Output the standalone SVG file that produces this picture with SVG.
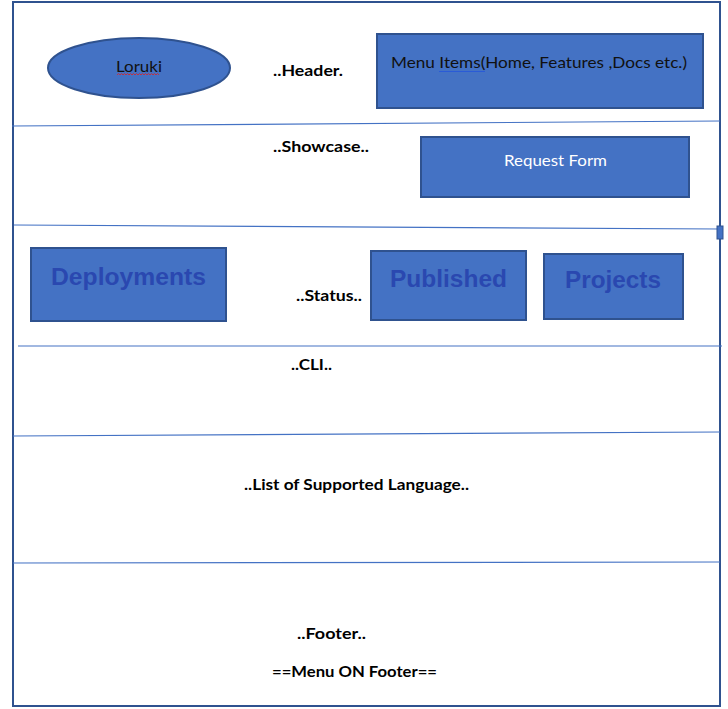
<svg xmlns="http://www.w3.org/2000/svg" width="728" height="709" viewBox="0 0 728 709">
<style>
.box{fill:#4472C4;stroke:#2F528F;stroke-width:2}
.div{stroke:#4472C4;stroke-width:1.2;fill:none}
.lbl{font-family:Lato,"Open Sans","Liberation Sans",sans-serif;font-weight:bold;font-size:14.5px;fill:#000}
.in{font-family:Lato,"Open Sans","Liberation Sans",sans-serif;font-size:15px;fill:#111}
.big{font-family:"Liberation Sans",Arial,sans-serif;font-weight:bold;font-size:24px;fill:#2A48B0}
</style>
<rect width="728" height="709" fill="#fff"/>
<rect x="13" y="2" width="707" height="704" fill="none" stroke="#2F528F" stroke-width="2"/>
<g id="connectors">
<line class="div" x1="12" y1="126" x2="720" y2="121"/>
<line class="div" x1="14" y1="225" x2="720" y2="229"/>
<line class="div" x1="18" y1="346" x2="722" y2="346"/>
<line class="div" x1="13" y1="436" x2="720" y2="432"/>
<line class="div" x1="13" y1="563" x2="720" y2="562"/>
</g>
<rect x="717" y="226" width="6" height="13" fill="#4472C4" stroke="#2F528F" stroke-width="1"/>
<g id="logo">
<ellipse class="box" cx="139" cy="68" rx="91" ry="30"/>
<text class="in" x="139" y="72" text-anchor="middle" textLength="46" lengthAdjust="spacingAndGlyphs">Loruki</text>
<path d="M117 75 l1.5 -1.5 l1.5 1.5 l1.5 -1.5 l1.5 1.5 l1.5 -1.5 l1.5 1.5 l1.5 -1.5 l1.5 1.5 l1.5 -1.5 l1.5 1.5 l1.5 -1.5 l1.5 1.5 l1.5 -1.5 l1.5 1.5 l1.5 -1.5 l1.5 1.5 l1.5 -1.5 l1.5 1.5 l1.5 -1.5 l1.5 1.5 l1.5 -1.5 l1.5 1.5 l1.5 -1.5 l1.5 1.5 l1.5 -1.5 l1.5 1.5 l1.5 -1.5 l1.5 1.5" fill="none" stroke="#E02020" stroke-width="0.8"/>
</g>
<g id="header-label"><text class="lbl" x="273" y="76" textLength="70" lengthAdjust="spacingAndGlyphs">..Header.</text></g>
<g id="menu-items">
<rect class="box" x="377" y="34" width="326" height="74"/>
<text class="in" x="391" y="68" textLength="296" lengthAdjust="spacingAndGlyphs">Menu Items(Home, Features ,Docs etc.)</text>
<line x1="439" y1="71.5" x2="485" y2="71.5" stroke="#2A5BD7" stroke-width="1"/>
</g>
<g id="showcase-label"><text class="lbl" x="273" y="152" textLength="96" lengthAdjust="spacingAndGlyphs">..Showcase..</text></g>
<g id="request-form">
<rect class="box" x="421" y="137" width="268" height="60"/>
<text class="in" x="504" y="166" fill="#fff" style="fill:#fff" textLength="103" lengthAdjust="spacingAndGlyphs">Request Form</text>
</g>
<g id="deployments">
<rect class="box" x="31" y="248" width="195" height="73"/>
<text class="big" x="51" y="285" textLength="155" lengthAdjust="spacingAndGlyphs">Deployments</text>
</g>
<g id="status-label"><text class="lbl" x="296" y="301" textLength="66" lengthAdjust="spacingAndGlyphs">..Status..</text></g>
<g id="published">
<rect class="box" x="371" y="251" width="155" height="69"/>
<text class="big" x="390" y="287" textLength="117" lengthAdjust="spacingAndGlyphs">Published</text>
</g>
<g id="projects">
<rect class="box" x="544" y="254" width="139" height="65"/>
<text class="big" x="565" y="288" textLength="96" lengthAdjust="spacingAndGlyphs">Projects</text>
</g>
<g id="cli-label"><text class="lbl" x="291" y="370" textLength="41" lengthAdjust="spacingAndGlyphs">..CLI..</text></g>
<g id="languages-label"><text class="lbl" x="244" y="490" textLength="225" lengthAdjust="spacingAndGlyphs">..List of Supported Language..</text></g>
<g id="footer-label"><text class="lbl" x="297" y="639" textLength="69" lengthAdjust="spacingAndGlyphs">..Footer..</text></g>
<g id="footer-menu-label"><text class="lbl" x="272" y="677" textLength="165" lengthAdjust="spacingAndGlyphs">==Menu ON Footer==</text></g>
</svg>
